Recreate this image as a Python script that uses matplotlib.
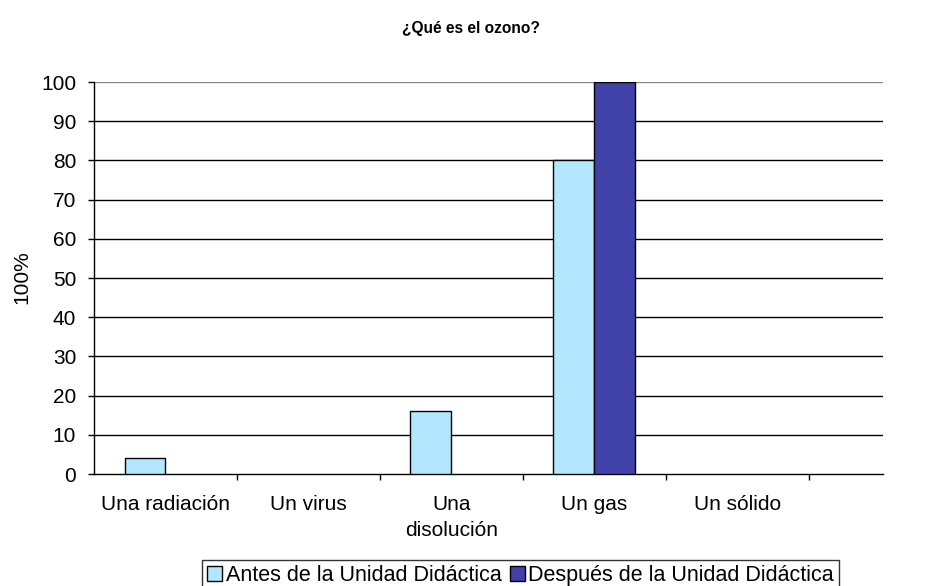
import numpy as np
import matplotlib.pyplot as plt
from matplotlib.patches import Patch

plt.rcParams['font.family'] = ['Liberation Sans', 'DejaVu Sans']

categorias = ['Una radiación', 'Un virus', 'Una\ndisolución', 'Un gas', 'Un sólido']
antes = [4, 0, 16, 80, 0]
despues = [0, 0, 0, 100, 0]
series = ['Antes de la Unidad Didáctica', 'Después de la Unidad Didáctica']
colores = ['#B3E6FF', '#4141AA']
fs = 15

fig = plt.figure(figsize=(9.42, 5.86), dpi=100)
ax = fig.add_axes([94 / 942, 1 - 474 / 586, (883 - 94) / 942, (474 - 82) / 586])

x = np.arange(len(categorias))
w = 0.286
for vals, off, c in [(antes, -w / 2, colores[0]), (despues, w / 2, colores[1])]:
    for xi, v in zip(x, vals):
        if v > 0:  # las barras a cero no se dibujan
            ax.bar(xi + off, v, w, color=c, edgecolor='black', linewidth=1, zorder=3)

ax.set_xlim(-0.5, 5.02)
ax.set_ylim(0, 100)
ax.set_yticks(range(0, 101, 10))
ax.tick_params(axis='y', labelsize=fs, length=4.3, width=1, direction='out', pad=8.5)

# categorias centradas entre marcas de graduacion
ax.set_xticks(np.arange(0.5, 5, 1))
ax.set_xticklabels([])
ax.tick_params(axis='x', length=4.3, width=1, direction='out')
for xi, lab in zip(x, categorias):
    ax.text(xi, -5.4, lab, ha='center', va='top', fontsize=fs,
            transform=ax.transData, linespacing=1.45)

for v in range(10, 100, 10):
    ax.axhline(v, color='black', linewidth=1, zorder=1)
ax.axhline(100, color='#888888', linewidth=1, zorder=1)

for s in ['top', 'right']:
    ax.spines[s].set_visible(False)
ax.spines['left'].set_linewidth(1)
ax.spines['bottom'].set_linewidth(1)

fig.text(22 / 942, 1 - 277 / 586, '100%', rotation=90, ha='center', va='center', fontsize=fs)
fig.text(0.5, 1 - 28 / 586, '¿Qué es el ozono?', ha='center', va='center',
         fontsize=11.2, fontweight='bold')

handles = [Patch(facecolor=c, edgecolor='black', label=s) for c, s in zip(colores, series)]
leg = fig.legend(handles=handles, loc='upper left', bbox_to_anchor=(202 / 942, 1 - 560 / 586),
                 ncol=2, fontsize=15.5, frameon=True, fancybox=False, handlelength=0.7,
                 handleheight=0.7, handletextpad=0.15, columnspacing=0.4, borderpad=0.25,
                 borderaxespad=0)
leg.get_frame().set_edgecolor('black')
leg.get_frame().set_linewidth(1)

fig.savefig('out.png', dpi=100)
